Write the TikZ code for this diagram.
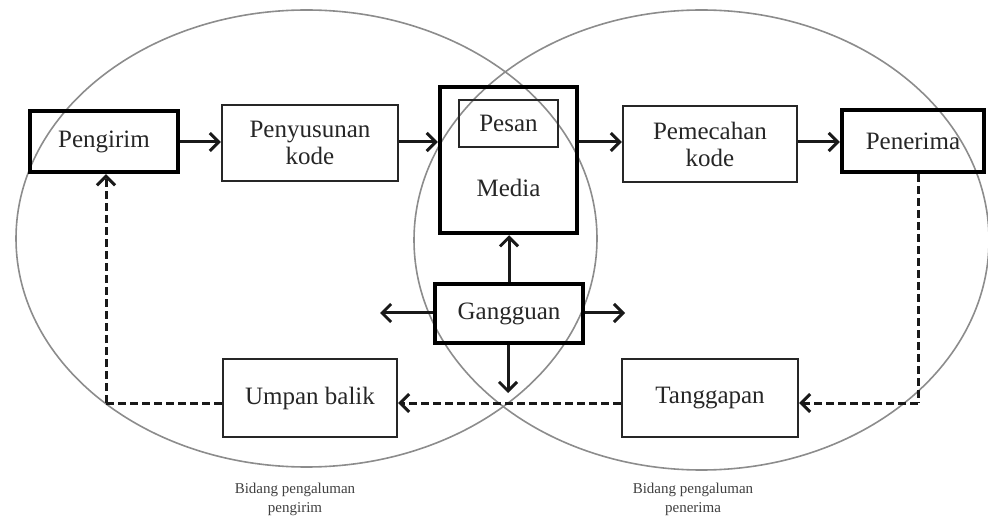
\documentclass[tikz,border=0pt]{standalone}
\usepackage{fontspec}
\setmainfont{Liberation Serif}
\usetikzlibrary{arrows.meta}
\tikzset{
  every node/.style={font=\fontsize{25}{27}\selectfont, text=black!85},
  thinbox/.style={draw=black!85, line width=2.2pt, inner sep=0pt, align=center},
  thickbox/.style={draw=black, line width=4.5pt, inner sep=0pt, align=center},
  field/.style={draw=black!45, line width=1.6pt},
  flow/.style={draw=black!90, line width=3pt, -{Straight Barb[length=9pt,width=18pt,line width=3pt]}},
  fback/.style={flow, dash pattern=on 8pt off 4pt},
  fbline/.style={draw=black!90, line width=3pt, dash pattern=on 8pt off 4pt},
  caption/.style={font=\fontsize{15}{19}\selectfont, align=center, text=black!75}
}
\begin{document}
\begin{tikzpicture}[x=1pt,y=-1pt]
\useasboundingbox (0,0) rectangle (988,521);
% fields of experience
\draw[field] (306.5,238.5) ellipse [x radius=290.5, y radius=228.5];
\draw[field] (701.5,240) ellipse [x radius=287.5, y radius=230];
% nodes
\node[thickbox, minimum width=148pt, minimum height=61pt] (peng) at (104,141.5) {Pengirim};
\node[thinbox, minimum width=176pt, minimum height=76pt] (susun) at (310,143) {Penyusunan\\kode};
\node[thickbox, minimum width=137pt, minimum height=146pt] (media) at (508.5,160) {};
\node[thinbox, minimum width=99pt, minimum height=47pt] (pesan) at (508.5,123.5) {Pesan};
\node (medialbl) at (508.5,188) {Media};
\node[thinbox, minimum width=174pt, minimum height=76pt] (pecah) at (710,144) {Pemecahan\\kode};
\node[thickbox, minimum width=142pt, minimum height=62pt] (terima) at (913,141) {Penerima};
\node[thickbox, minimum width=148pt, minimum height=59pt] (ganggu) at (509,313.5) {Gangguan};
\node[thinbox, minimum width=174pt, minimum height=78pt] (umpan) at (310,398) {Umpan balik};
\node[thinbox, minimum width=176pt, minimum height=78pt] (tanggap) at (710,398) {Tanggapan};
% free ends
\coordinate (gl) at (380,313);
\coordinate (gr) at (625,313);
\coordinate (gd) at (508,393);
\coordinate (cr) at (918,403);
\coordinate (cl) at (106,403);
% forward flow
\draw[flow] (peng.east |- 0,142) -- (susun.west |- 0,142);
\draw[flow] (susun.east |- 0,142) -- (media.west |- 0,142);
\draw[flow] (media.east |- 0,142) -- (pecah.west |- 0,142);
\draw[flow] (pecah.east |- 0,142) -- (terima.west |- 0,142);
% noise
\draw[flow] (ganggu.north -| 509,0) -- (media.south -| 509,0);
\draw[flow] (ganggu.west |- gl) -- (gl);
\draw[flow] (ganggu.east |- gr) -- (gr);
\draw[flow] (ganggu.south -| gd) -- (gd);
% feedback
\draw[fbline] (terima.south -| cr) -- (cr);
\draw[fback] (cr) -- (tanggap.east |- cr);
\draw[fback] (tanggap.west |- cr) -- (umpan.east |- cr);
\draw[fbline] (umpan.west |- cl) -- (cl);
\draw[fback] (cl) -- (peng.south -| cl);
% captions
\node[caption] (capl) at (295,499) {Bidang pengaluman\\pengirim};
\node[caption] (capr) at (693,499) {Bidang pengaluman\\penerima};
\end{tikzpicture}
\end{document}
